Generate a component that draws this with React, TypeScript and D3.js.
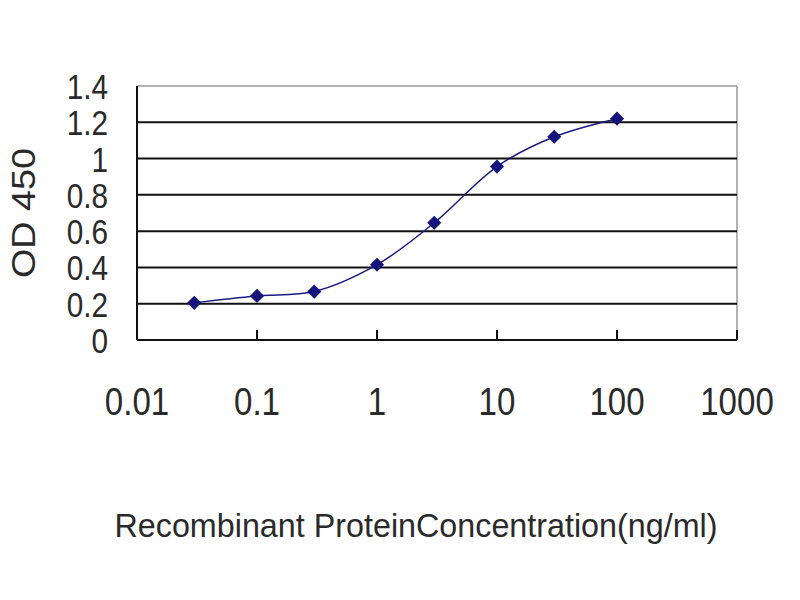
import React from "react";
import * as d3 from "d3";

const concentrations = [0.03, 0.1, 0.3, 1, 3, 10, 30, 100];
const odValues = [0.205, 0.243, 0.267, 0.415, 0.646, 0.956, 1.12, 1.22];
const yTicks = [0, 0.2, 0.4, 0.6, 0.8, 1, 1.2, 1.4];
const yTickLabels = ["0", "0.2", "0.4", "0.6", "0.8", "1", "1.2", "1.4"];
const xTicks = [0.01, 0.1, 1, 10, 100, 1000];
const xTickLabels = ["0.01", "0.1", "1", "10", "100", "1000"];

export default function App() {
  const W = 800, H = 600;
  const left = 137, right = 737, top = 86, bottom = 340;
  const x = d3.scaleLog().domain([0.01, 1000]).range([left, right]);
  const y = d3.scaleLinear().domain([0, 1.4]).range([bottom, top]);
  const pts = concentrations.map((c, i) => [x(c), y(odValues[i])] as [number, number]);
  const line = d3.line().curve(d3.curveCatmullRom.alpha(0.5))(pts) || "";
  const diamond = d3.symbol().type(d3.symbolSquare).size(100)() || "";
  const font = "'Liberation Sans', Arial, sans-serif";
  const ink = "#2a2a2a";
  return (
    <svg width={W} height={H} style={{ position: "absolute", left: 0, top: 0 }}>
      <rect x={0} y={0} width={W} height={H} fill="#fff" />
      <line x1={left} x2={right} y1={top} y2={top} stroke="#999" strokeWidth={1.5} />
      <line x1={right} x2={right} y1={top} y2={bottom} stroke="#999" strokeWidth={1.5} />
      {yTicks.filter((t) => t > 0 && t < 1.4).map((t) => (
        <line key={t} x1={left} x2={right} y1={y(t)} y2={y(t)} stroke="#111" strokeWidth={2} />
      ))}
      <line x1={left} x2={left} y1={top} y2={bottom} stroke="#111" strokeWidth={2} />
      <line x1={left} x2={right} y1={bottom} y2={bottom} stroke="#111" strokeWidth={2} />
      {xTicks.map((t) => (
        <line key={t} x1={x(t)} x2={x(t)} y1={bottom} y2={bottom - 10} stroke="#111" strokeWidth={2} />
      ))}
      {yTicks.map((t, i) => (
        <text key={t} transform={`translate(108,${y(t) + 13}) scale(0.85,1)`} textAnchor="end" fontFamily={font} fontSize={35} fill={ink}>
          {yTickLabels[i]}
        </text>
      ))}
      {xTicks.map((t, i) => (
        <text key={t} transform={`translate(${x(t)},415) scale(0.87,1)`} textAnchor="middle" fontFamily={font} fontSize={38} fill={ink}>
          {xTickLabels[i]}
        </text>
      ))}
      <text transform="translate(35,213) rotate(-90)" textAnchor="middle" fontFamily={font} fontSize={34} fill={ink} textLength={130} lengthAdjust="spacingAndGlyphs">
        OD 450
      </text>
      <text x={416} y={537} textAnchor="middle" fontFamily={font} fontSize={33} fill={ink} textLength={603} lengthAdjust="spacingAndGlyphs">
        Recombinant ProteinConcentration(ng/ml)
      </text>
      <path d={line} fill="none" stroke="#1a1a80" strokeWidth={1.5} />
      {pts.map((p, i) => (
        <path key={i} d={diamond} transform={`translate(${p[0]},${p[1]}) rotate(45)`} fill="#14147a" />
      ))}
    </svg>
  );
}
